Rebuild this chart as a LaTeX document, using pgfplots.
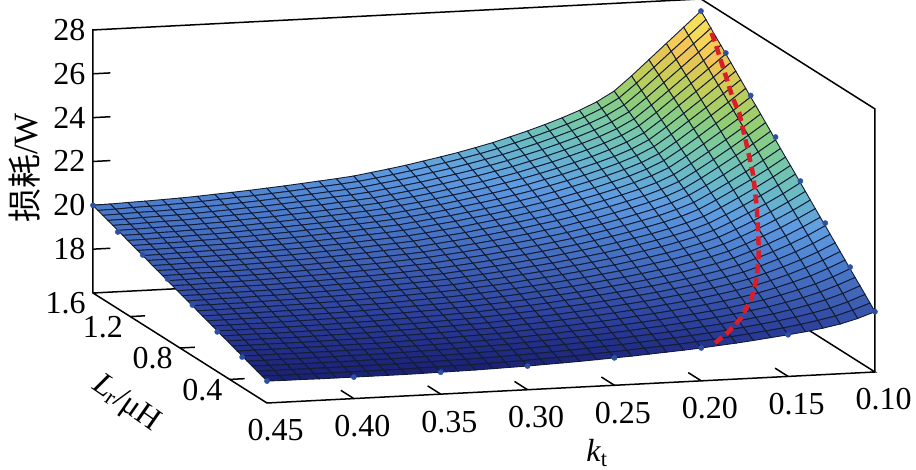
\documentclass[border=0pt]{standalone}
\usepackage{fontspec}
\setmainfont{Liberation Serif}
\newfontfamily\cjk{Noto Sans CJK SC}
\usepackage{pgfplots}
\pgfplotsset{compat=1.18}
\usetikzlibrary{calc}
\definecolor{meshc}{rgb}{0.07,0.11,0.2}
\definecolor{dotc}{RGB}{45,80,165}
\definecolor{redc}{RGB}{216,30,40}
\begin{document}
\begin{tikzpicture}
\begin{axis}[
  x={(-1737.14pt,-88.57pt)}, y={(-124.29pt,78.57pt)}, z={(0pt,21.92pt)},
  xmin=0.10,xmax=0.45,ymin=0.1,ymax=1.5,zmin=16,zmax=28,
  clip=false,
  axis line style={draw=none},
  tick style={draw=none},
  xtick={0.10,0.15,0.20,0.25,0.30,0.35,0.40,0.45},
  xticklabels={0.10,0.15,0.20,0.25,0.30,0.35,0.40,0.45},
  ytick={0.4,0.8,1.2,1.5},
  yticklabels={0.4,0.8,1.2,1.6},
  ztick={18,20,22,24,26,28},
  zticklabels={18,20,22,24,26,28},
  tick label style={font=\fontsize{32}{36}\selectfont},
  xticklabel style={yshift=-12pt},
  yticklabel style={xshift=-10pt,yshift=8pt},
  zticklabel style={xshift=-4pt,yshift=-5pt},
  colormap={loss}{rgb255=(26,32,115); rgb255=(44,62,155); rgb255=(62,95,180); rgb255=(76,125,205); rgb255=(95,155,225); rgb255=(105,185,200); rgb255=(120,200,165); rgb255=(145,205,115); rgb255=(200,205,85); rgb255=(245,195,85); rgb255=(245,230,90)},
  point meta min=17, point meta max=27,
]
\addplot3[black,line width=1.5pt,no markers,forget plot] coordinates {(0.45,1.5,16)(0.10,1.5,16)(0.10,0.1,16)(0.45,0.1,16)(0.45,1.5,16)(0.45,1.5,28)(0.10,1.5,28)(0.10,0.1,28)(0.10,0.1,16)};
\addplot3[black,line width=1.5pt,no markers,forget plot,unbounded coords=jump] coordinates {
(0.45,1.5,18)(0.44,1.5,18)(nan,nan,nan)(0.45,1.5,20)(0.44,1.5,20)(nan,nan,nan)(0.45,1.5,22)(0.44,1.5,22)(nan,nan,nan)(0.45,1.5,24)(0.44,1.5,24)(nan,nan,nan)(0.45,1.5,26)(0.44,1.5,26)(nan,nan,nan)
(0.45,0.4,16)(0.4414,0.4,16)(nan,nan,nan)(0.45,0.8,16)(0.4414,0.8,16)(nan,nan,nan)(0.45,1.2,16)(0.4414,1.2,16)(nan,nan,nan)
(0.15,0.1,16)(0.15,0.205,16)(nan,nan,nan)(0.20,0.1,16)(0.20,0.205,16)(nan,nan,nan)(0.25,0.1,16)(0.25,0.205,16)(nan,nan,nan)(0.30,0.1,16)(0.30,0.205,16)(nan,nan,nan)(0.35,0.1,16)(0.35,0.205,16)(nan,nan,nan)(0.40,0.1,16)(0.40,0.205,16)};
\addplot3[surf,shader=faceted,faceted color=meshc,line width=0.9pt,mesh/rows=36,mesh/cols=36,mesh/ordering=y varies,z buffer=none]
 table[row sep=\\,header=false,x index=0,y index=1,z index=2]{
0.10 1.50 27.45\\0.10 1.46 27.20\\0.10 1.42 26.95\\0.10 1.38 26.70\\0.10 1.34 26.46\\0.10 1.30 26.21\\0.10 1.26 25.96\\0.10 1.22 25.71\\0.10 1.18 25.46\\0.10 1.14 25.21\\0.10 1.10 24.96\\0.10 1.06 24.72\\0.10 1.02 24.47\\0.10 0.98 24.22\\0.10 0.94 23.97\\0.10 0.90 23.72\\0.10 0.86 23.47\\0.10 0.82 23.22\\0.10 0.78 22.98\\0.10 0.74 22.73\\0.10 0.70 22.48\\0.10 0.66 22.23\\0.10 0.62 21.98\\0.10 0.58 21.73\\0.10 0.54 21.48\\0.10 0.50 21.24\\0.10 0.46 20.99\\0.10 0.42 20.74\\0.10 0.38 20.49\\0.10 0.34 20.24\\0.10 0.30 19.99\\0.10 0.26 19.74\\0.10 0.22 19.50\\0.10 0.18 19.25\\0.10 0.14 19.00\\0.10 0.10 18.75\\
0.11 1.50 26.75\\0.11 1.46 26.51\\0.11 1.42 26.28\\0.11 1.38 26.04\\0.11 1.34 25.80\\0.11 1.30 25.57\\0.11 1.26 25.33\\0.11 1.22 25.10\\0.11 1.18 24.86\\0.11 1.14 24.62\\0.11 1.10 24.39\\0.11 1.06 24.15\\0.11 1.02 23.91\\0.11 0.98 23.68\\0.11 0.94 23.44\\0.11 0.90 23.21\\0.11 0.86 22.97\\0.11 0.82 22.73\\0.11 0.78 22.50\\0.11 0.74 22.26\\0.11 0.70 22.02\\0.11 0.66 21.79\\0.11 0.62 21.55\\0.11 0.58 21.32\\0.11 0.54 21.08\\0.11 0.50 20.84\\0.11 0.46 20.61\\0.11 0.42 20.37\\0.11 0.38 20.13\\0.11 0.34 19.90\\0.11 0.30 19.66\\0.11 0.26 19.43\\0.11 0.22 19.19\\0.11 0.18 18.95\\0.11 0.14 18.72\\0.11 0.10 18.48\\
0.12 1.50 26.05\\0.12 1.46 25.83\\0.12 1.42 25.61\\0.12 1.38 25.38\\0.12 1.34 25.16\\0.12 1.30 24.94\\0.12 1.26 24.72\\0.12 1.22 24.49\\0.12 1.18 24.27\\0.12 1.14 24.05\\0.12 1.10 23.83\\0.12 1.06 23.61\\0.12 1.02 23.38\\0.12 0.98 23.16\\0.12 0.94 22.94\\0.12 0.90 22.72\\0.12 0.86 22.49\\0.12 0.82 22.27\\0.12 0.78 22.05\\0.12 0.74 21.83\\0.12 0.70 21.60\\0.12 0.66 21.38\\0.12 0.62 21.16\\0.12 0.58 20.94\\0.12 0.54 20.71\\0.12 0.50 20.49\\0.12 0.46 20.27\\0.12 0.42 20.05\\0.12 0.38 19.83\\0.12 0.34 19.60\\0.12 0.30 19.38\\0.12 0.26 19.16\\0.12 0.22 18.94\\0.12 0.18 18.71\\0.12 0.14 18.49\\0.12 0.10 18.27\\
0.13 1.50 25.35\\0.13 1.46 25.14\\0.13 1.42 24.94\\0.13 1.38 24.73\\0.13 1.34 24.52\\0.13 1.30 24.32\\0.13 1.26 24.11\\0.13 1.22 23.90\\0.13 1.18 23.70\\0.13 1.14 23.49\\0.13 1.10 23.28\\0.13 1.06 23.08\\0.13 1.02 22.87\\0.13 0.98 22.66\\0.13 0.94 22.46\\0.13 0.90 22.25\\0.13 0.86 22.04\\0.13 0.82 21.84\\0.13 0.78 21.63\\0.13 0.74 21.42\\0.13 0.70 21.22\\0.13 0.66 21.01\\0.13 0.62 20.80\\0.13 0.58 20.60\\0.13 0.54 20.39\\0.13 0.50 20.18\\0.13 0.46 19.98\\0.13 0.42 19.77\\0.13 0.38 19.56\\0.13 0.34 19.36\\0.13 0.30 19.15\\0.13 0.26 18.94\\0.13 0.22 18.74\\0.13 0.18 18.53\\0.13 0.14 18.33\\0.13 0.10 18.12\\
0.14 1.50 24.65\\0.14 1.46 24.46\\0.14 1.42 24.27\\0.14 1.38 24.08\\0.14 1.34 23.89\\0.14 1.30 23.70\\0.14 1.26 23.51\\0.14 1.22 23.32\\0.14 1.18 23.13\\0.14 1.14 22.94\\0.14 1.10 22.75\\0.14 1.06 22.56\\0.14 1.02 22.37\\0.14 0.98 22.18\\0.14 0.94 21.99\\0.14 0.90 21.80\\0.14 0.86 21.61\\0.14 0.82 21.42\\0.14 0.78 21.23\\0.14 0.74 21.04\\0.14 0.70 20.85\\0.14 0.66 20.66\\0.14 0.62 20.47\\0.14 0.58 20.28\\0.14 0.54 20.09\\0.14 0.50 19.90\\0.14 0.46 19.71\\0.14 0.42 19.52\\0.14 0.38 19.33\\0.14 0.34 19.14\\0.14 0.30 18.95\\0.14 0.26 18.76\\0.14 0.22 18.57\\0.14 0.18 18.38\\0.14 0.14 18.19\\0.14 0.10 18.00\\
0.15 1.50 24.00\\0.15 1.46 23.83\\0.15 1.42 23.65\\0.15 1.38 23.48\\0.15 1.34 23.30\\0.15 1.30 23.13\\0.15 1.26 22.95\\0.15 1.22 22.78\\0.15 1.18 22.61\\0.15 1.14 22.43\\0.15 1.10 22.26\\0.15 1.06 22.08\\0.15 1.02 21.91\\0.15 0.98 21.73\\0.15 0.94 21.56\\0.15 0.90 21.39\\0.15 0.86 21.21\\0.15 0.82 21.04\\0.15 0.78 20.86\\0.15 0.74 20.69\\0.15 0.70 20.51\\0.15 0.66 20.34\\0.15 0.62 20.17\\0.15 0.58 19.99\\0.15 0.54 19.82\\0.15 0.50 19.64\\0.15 0.46 19.47\\0.15 0.42 19.29\\0.15 0.38 19.12\\0.15 0.34 18.95\\0.15 0.30 18.77\\0.15 0.26 18.60\\0.15 0.22 18.42\\0.15 0.18 18.25\\0.15 0.14 18.07\\0.15 0.10 17.90\\
0.16 1.50 23.55\\0.16 1.46 23.39\\0.16 1.42 23.22\\0.16 1.38 23.06\\0.16 1.34 22.89\\0.16 1.30 22.73\\0.16 1.26 22.57\\0.16 1.22 22.40\\0.16 1.18 22.24\\0.16 1.14 22.07\\0.16 1.10 21.91\\0.16 1.06 21.75\\0.16 1.02 21.58\\0.16 0.98 21.42\\0.16 0.94 21.25\\0.16 0.90 21.09\\0.16 0.86 20.93\\0.16 0.82 20.76\\0.16 0.78 20.60\\0.16 0.74 20.43\\0.16 0.70 20.27\\0.16 0.66 20.11\\0.16 0.62 19.94\\0.16 0.58 19.78\\0.16 0.54 19.61\\0.16 0.50 19.45\\0.16 0.46 19.29\\0.16 0.42 19.12\\0.16 0.38 18.96\\0.16 0.34 18.79\\0.16 0.30 18.63\\0.16 0.26 18.47\\0.16 0.22 18.30\\0.16 0.18 18.14\\0.16 0.14 17.97\\0.16 0.10 17.81\\
0.17 1.50 23.20\\0.17 1.46 23.04\\0.17 1.42 22.89\\0.17 1.38 22.73\\0.17 1.34 22.57\\0.17 1.30 22.42\\0.17 1.26 22.26\\0.17 1.22 22.10\\0.17 1.18 21.95\\0.17 1.14 21.79\\0.17 1.10 21.63\\0.17 1.06 21.48\\0.17 1.02 21.32\\0.17 0.98 21.16\\0.17 0.94 21.01\\0.17 0.90 20.85\\0.17 0.86 20.69\\0.17 0.82 20.54\\0.17 0.78 20.38\\0.17 0.74 20.22\\0.17 0.70 20.07\\0.17 0.66 19.91\\0.17 0.62 19.76\\0.17 0.58 19.60\\0.17 0.54 19.44\\0.17 0.50 19.29\\0.17 0.46 19.13\\0.17 0.42 18.97\\0.17 0.38 18.82\\0.17 0.34 18.66\\0.17 0.30 18.50\\0.17 0.26 18.35\\0.17 0.22 18.19\\0.17 0.18 18.03\\0.17 0.14 17.88\\0.17 0.10 17.72\\
0.18 1.50 22.90\\0.18 1.46 22.75\\0.18 1.42 22.60\\0.18 1.38 22.45\\0.18 1.34 22.30\\0.18 1.30 22.15\\0.18 1.26 21.99\\0.18 1.22 21.85\\0.18 1.18 21.70\\0.18 1.14 21.55\\0.18 1.10 21.40\\0.18 1.06 21.25\\0.18 1.02 21.10\\0.18 0.98 20.95\\0.18 0.94 20.80\\0.18 0.90 20.65\\0.18 0.86 20.50\\0.18 0.82 20.35\\0.18 0.78 20.19\\0.18 0.74 20.04\\0.18 0.70 19.89\\0.18 0.66 19.74\\0.18 0.62 19.59\\0.18 0.58 19.44\\0.18 0.54 19.29\\0.18 0.50 19.14\\0.18 0.46 18.99\\0.18 0.42 18.84\\0.18 0.38 18.69\\0.18 0.34 18.54\\0.18 0.30 18.39\\0.18 0.26 18.24\\0.18 0.22 18.09\\0.18 0.18 17.94\\0.18 0.14 17.79\\0.18 0.10 17.64\\
0.19 1.50 22.63\\0.19 1.46 22.49\\0.19 1.42 22.34\\0.19 1.38 22.20\\0.19 1.34 22.05\\0.19 1.30 21.91\\0.19 1.26 21.76\\0.19 1.22 21.62\\0.19 1.18 21.47\\0.19 1.14 21.33\\0.19 1.10 21.18\\0.19 1.06 21.04\\0.19 1.02 20.89\\0.19 0.98 20.75\\0.19 0.94 20.61\\0.19 0.90 20.46\\0.19 0.86 20.32\\0.19 0.82 20.17\\0.19 0.78 20.03\\0.19 0.74 19.88\\0.19 0.70 19.74\\0.19 0.66 19.59\\0.19 0.62 19.45\\0.19 0.58 19.30\\0.19 0.54 19.16\\0.19 0.50 19.01\\0.19 0.46 18.87\\0.19 0.42 18.73\\0.19 0.38 18.58\\0.19 0.34 18.44\\0.19 0.30 18.29\\0.19 0.26 18.15\\0.19 0.22 18.00\\0.19 0.18 17.86\\0.19 0.14 17.71\\0.19 0.10 17.57\\
0.20 1.50 22.38\\0.20 1.46 22.24\\0.20 1.42 22.10\\0.20 1.38 21.96\\0.20 1.34 21.82\\0.20 1.30 21.68\\0.20 1.26 21.54\\0.20 1.22 21.40\\0.20 1.18 21.26\\0.20 1.14 21.13\\0.20 1.10 20.99\\0.20 1.06 20.85\\0.20 1.02 20.71\\0.20 0.98 20.57\\0.20 0.94 20.43\\0.20 0.90 20.29\\0.20 0.86 20.15\\0.20 0.82 20.01\\0.20 0.78 19.87\\0.20 0.74 19.73\\0.20 0.70 19.59\\0.20 0.66 19.45\\0.20 0.62 19.31\\0.20 0.58 19.17\\0.20 0.54 19.03\\0.20 0.50 18.89\\0.20 0.46 18.75\\0.20 0.42 18.62\\0.20 0.38 18.48\\0.20 0.34 18.34\\0.20 0.30 18.20\\0.20 0.26 18.06\\0.20 0.22 17.92\\0.20 0.18 17.78\\0.20 0.14 17.64\\0.20 0.10 17.50\\
0.21 1.50 22.15\\0.21 1.46 22.02\\0.21 1.42 21.88\\0.21 1.38 21.75\\0.21 1.34 21.61\\0.21 1.30 21.48\\0.21 1.26 21.34\\0.21 1.22 21.21\\0.21 1.18 21.07\\0.21 1.14 20.94\\0.21 1.10 20.80\\0.21 1.06 20.67\\0.21 1.02 20.53\\0.21 0.98 20.40\\0.21 0.94 20.27\\0.21 0.90 20.13\\0.21 0.86 20.00\\0.21 0.82 19.86\\0.21 0.78 19.73\\0.21 0.74 19.59\\0.21 0.70 19.46\\0.21 0.66 19.32\\0.21 0.62 19.19\\0.21 0.58 19.05\\0.21 0.54 18.92\\0.21 0.50 18.79\\0.21 0.46 18.65\\0.21 0.42 18.52\\0.21 0.38 18.38\\0.21 0.34 18.25\\0.21 0.30 18.11\\0.21 0.26 17.98\\0.21 0.22 17.84\\0.21 0.18 17.71\\0.21 0.14 17.57\\0.21 0.10 17.44\\
0.22 1.50 21.93\\0.22 1.46 21.80\\0.22 1.42 21.67\\0.22 1.38 21.54\\0.22 1.34 21.41\\0.22 1.30 21.28\\0.22 1.26 21.15\\0.22 1.22 21.02\\0.22 1.18 20.89\\0.22 1.14 20.76\\0.22 1.10 20.63\\0.22 1.06 20.50\\0.22 1.02 20.37\\0.22 0.98 20.24\\0.22 0.94 20.11\\0.22 0.90 19.98\\0.22 0.86 19.85\\0.22 0.82 19.72\\0.22 0.78 19.60\\0.22 0.74 19.47\\0.22 0.70 19.34\\0.22 0.66 19.21\\0.22 0.62 19.08\\0.22 0.58 18.95\\0.22 0.54 18.82\\0.22 0.50 18.69\\0.22 0.46 18.56\\0.22 0.42 18.43\\0.22 0.38 18.30\\0.22 0.34 18.17\\0.22 0.30 18.04\\0.22 0.26 17.91\\0.22 0.22 17.78\\0.22 0.18 17.65\\0.22 0.14 17.52\\0.22 0.10 17.39\\
0.23 1.50 21.74\\0.23 1.46 21.61\\0.23 1.42 21.49\\0.23 1.38 21.36\\0.23 1.34 21.24\\0.23 1.30 21.11\\0.23 1.26 20.99\\0.23 1.22 20.86\\0.23 1.18 20.73\\0.23 1.14 20.61\\0.23 1.10 20.48\\0.23 1.06 20.36\\0.23 1.02 20.23\\0.23 0.98 20.11\\0.23 0.94 19.98\\0.23 0.90 19.85\\0.23 0.86 19.73\\0.23 0.82 19.60\\0.23 0.78 19.48\\0.23 0.74 19.35\\0.23 0.70 19.23\\0.23 0.66 19.10\\0.23 0.62 18.97\\0.23 0.58 18.85\\0.23 0.54 18.72\\0.23 0.50 18.60\\0.23 0.46 18.47\\0.23 0.42 18.35\\0.23 0.38 18.22\\0.23 0.34 18.09\\0.23 0.30 17.97\\0.23 0.26 17.84\\0.23 0.22 17.72\\0.23 0.18 17.59\\0.23 0.14 17.47\\0.23 0.10 17.34\\
0.24 1.50 21.56\\0.24 1.46 21.44\\0.24 1.42 21.32\\0.24 1.38 21.19\\0.24 1.34 21.07\\0.24 1.30 20.95\\0.24 1.26 20.83\\0.24 1.22 20.71\\0.24 1.18 20.58\\0.24 1.14 20.46\\0.24 1.10 20.34\\0.24 1.06 20.22\\0.24 1.02 20.10\\0.24 0.98 19.97\\0.24 0.94 19.85\\0.24 0.90 19.73\\0.24 0.86 19.61\\0.24 0.82 19.49\\0.24 0.78 19.36\\0.24 0.74 19.24\\0.24 0.70 19.12\\0.24 0.66 19.00\\0.24 0.62 18.88\\0.24 0.58 18.75\\0.24 0.54 18.63\\0.24 0.50 18.51\\0.24 0.46 18.39\\0.24 0.42 18.27\\0.24 0.38 18.14\\0.24 0.34 18.02\\0.24 0.30 17.90\\0.24 0.26 17.78\\0.24 0.22 17.66\\0.24 0.18 17.53\\0.24 0.14 17.41\\0.24 0.10 17.29\\
0.25 1.50 21.40\\0.25 1.46 21.28\\0.25 1.42 21.16\\0.25 1.38 21.04\\0.25 1.34 20.93\\0.25 1.30 20.81\\0.25 1.26 20.69\\0.25 1.22 20.57\\0.25 1.18 20.45\\0.25 1.14 20.33\\0.25 1.10 20.21\\0.25 1.06 20.10\\0.25 1.02 19.98\\0.25 0.98 19.86\\0.25 0.94 19.74\\0.25 0.90 19.62\\0.25 0.86 19.50\\0.25 0.82 19.38\\0.25 0.78 19.27\\0.25 0.74 19.15\\0.25 0.70 19.03\\0.25 0.66 18.91\\0.25 0.62 18.79\\0.25 0.58 18.67\\0.25 0.54 18.55\\0.25 0.50 18.44\\0.25 0.46 18.32\\0.25 0.42 18.20\\0.25 0.38 18.08\\0.25 0.34 17.96\\0.25 0.30 17.84\\0.25 0.26 17.72\\0.25 0.22 17.61\\0.25 0.18 17.49\\0.25 0.14 17.37\\0.25 0.10 17.25\\
0.26 1.50 21.25\\0.26 1.46 21.13\\0.26 1.42 21.02\\0.26 1.38 20.90\\0.26 1.34 20.79\\0.26 1.30 20.67\\0.26 1.26 20.56\\0.26 1.22 20.44\\0.26 1.18 20.33\\0.26 1.14 20.21\\0.26 1.10 20.10\\0.26 1.06 19.98\\0.26 1.02 19.87\\0.26 0.98 19.75\\0.26 0.94 19.63\\0.26 0.90 19.52\\0.26 0.86 19.40\\0.26 0.82 19.29\\0.26 0.78 19.17\\0.26 0.74 19.06\\0.26 0.70 18.94\\0.26 0.66 18.83\\0.26 0.62 18.71\\0.26 0.58 18.60\\0.26 0.54 18.48\\0.26 0.50 18.36\\0.26 0.46 18.25\\0.26 0.42 18.13\\0.26 0.38 18.02\\0.26 0.34 17.90\\0.26 0.30 17.79\\0.26 0.26 17.67\\0.26 0.22 17.56\\0.26 0.18 17.44\\0.26 0.14 17.33\\0.26 0.10 17.21\\
0.27 1.50 21.10\\0.27 1.46 20.99\\0.27 1.42 20.88\\0.27 1.38 20.76\\0.27 1.34 20.65\\0.27 1.30 20.54\\0.27 1.26 20.43\\0.27 1.22 20.31\\0.27 1.18 20.20\\0.27 1.14 20.09\\0.27 1.10 19.98\\0.27 1.06 19.86\\0.27 1.02 19.75\\0.27 0.98 19.64\\0.27 0.94 19.53\\0.27 0.90 19.42\\0.27 0.86 19.30\\0.27 0.82 19.19\\0.27 0.78 19.08\\0.27 0.74 18.97\\0.27 0.70 18.85\\0.27 0.66 18.74\\0.27 0.62 18.63\\0.27 0.58 18.52\\0.27 0.54 18.40\\0.27 0.50 18.29\\0.27 0.46 18.18\\0.27 0.42 18.07\\0.27 0.38 17.96\\0.27 0.34 17.84\\0.27 0.30 17.73\\0.27 0.26 17.62\\0.27 0.22 17.51\\0.27 0.18 17.39\\0.27 0.14 17.28\\0.27 0.10 17.17\\
0.28 1.50 20.97\\0.28 1.46 20.86\\0.28 1.42 20.75\\0.28 1.38 20.64\\0.28 1.34 20.53\\0.28 1.30 20.42\\0.28 1.26 20.31\\0.28 1.22 20.20\\0.28 1.18 20.09\\0.28 1.14 19.99\\0.28 1.10 19.88\\0.28 1.06 19.77\\0.28 1.02 19.66\\0.28 0.98 19.55\\0.28 0.94 19.44\\0.28 0.90 19.33\\0.28 0.86 19.22\\0.28 0.82 19.11\\0.28 0.78 19.00\\0.28 0.74 18.89\\0.28 0.70 18.78\\0.28 0.66 18.67\\0.28 0.62 18.56\\0.28 0.58 18.45\\0.28 0.54 18.34\\0.28 0.50 18.23\\0.28 0.46 18.13\\0.28 0.42 18.02\\0.28 0.38 17.91\\0.28 0.34 17.80\\0.28 0.30 17.69\\0.28 0.26 17.58\\0.28 0.22 17.47\\0.28 0.18 17.36\\0.28 0.14 17.25\\0.28 0.10 17.14\\
0.29 1.50 20.85\\0.29 1.46 20.74\\0.29 1.42 20.64\\0.29 1.38 20.53\\0.29 1.34 20.42\\0.29 1.30 20.32\\0.29 1.26 20.21\\0.29 1.22 20.10\\0.29 1.18 19.99\\0.29 1.14 19.89\\0.29 1.10 19.78\\0.29 1.06 19.67\\0.29 1.02 19.57\\0.29 0.98 19.46\\0.29 0.94 19.35\\0.29 0.90 19.25\\0.29 0.86 19.14\\0.29 0.82 19.03\\0.29 0.78 18.93\\0.29 0.74 18.82\\0.29 0.70 18.71\\0.29 0.66 18.61\\0.29 0.62 18.50\\0.29 0.58 18.39\\0.29 0.54 18.29\\0.29 0.50 18.18\\0.29 0.46 18.07\\0.29 0.42 17.96\\0.29 0.38 17.86\\0.29 0.34 17.75\\0.29 0.30 17.64\\0.29 0.26 17.54\\0.29 0.22 17.43\\0.29 0.18 17.32\\0.29 0.14 17.22\\0.29 0.10 17.11\\
0.30 1.50 20.73\\0.30 1.46 20.63\\0.30 1.42 20.52\\0.30 1.38 20.42\\0.30 1.34 20.31\\0.30 1.30 20.21\\0.30 1.26 20.10\\0.30 1.22 20.00\\0.30 1.18 19.90\\0.30 1.14 19.79\\0.30 1.10 19.69\\0.30 1.06 19.58\\0.30 1.02 19.48\\0.30 0.98 19.37\\0.30 0.94 19.27\\0.30 0.90 19.17\\0.30 0.86 19.06\\0.30 0.82 18.96\\0.30 0.78 18.85\\0.30 0.74 18.75\\0.30 0.70 18.64\\0.30 0.66 18.54\\0.30 0.62 18.44\\0.30 0.58 18.33\\0.30 0.54 18.23\\0.30 0.50 18.12\\0.30 0.46 18.02\\0.30 0.42 17.91\\0.30 0.38 17.81\\0.30 0.34 17.70\\0.30 0.30 17.60\\0.30 0.26 17.50\\0.30 0.22 17.39\\0.30 0.18 17.29\\0.30 0.14 17.18\\0.30 0.10 17.08\\
0.31 1.50 20.65\\0.31 1.46 20.55\\0.31 1.42 20.44\\0.31 1.38 20.34\\0.31 1.34 20.24\\0.31 1.30 20.14\\0.31 1.26 20.03\\0.31 1.22 19.93\\0.31 1.18 19.83\\0.31 1.14 19.73\\0.31 1.10 19.62\\0.31 1.06 19.52\\0.31 1.02 19.42\\0.31 0.98 19.32\\0.31 0.94 19.21\\0.31 0.90 19.11\\0.31 0.86 19.01\\0.31 0.82 18.91\\0.31 0.78 18.80\\0.31 0.74 18.70\\0.31 0.70 18.60\\0.31 0.66 18.50\\0.31 0.62 18.39\\0.31 0.58 18.29\\0.31 0.54 18.19\\0.31 0.50 18.09\\0.31 0.46 17.98\\0.31 0.42 17.88\\0.31 0.38 17.78\\0.31 0.34 17.68\\0.31 0.30 17.57\\0.31 0.26 17.47\\0.31 0.22 17.37\\0.31 0.18 17.27\\0.31 0.14 17.16\\0.31 0.10 17.06\\
0.32 1.50 20.58\\0.32 1.46 20.48\\0.32 1.42 20.38\\0.32 1.38 20.28\\0.32 1.34 20.18\\0.32 1.30 20.07\\0.32 1.26 19.97\\0.32 1.22 19.87\\0.32 1.18 19.77\\0.32 1.14 19.67\\0.32 1.10 19.57\\0.32 1.06 19.47\\0.32 1.02 19.37\\0.32 0.98 19.27\\0.32 0.94 19.16\\0.32 0.90 19.06\\0.32 0.86 18.96\\0.32 0.82 18.86\\0.32 0.78 18.76\\0.32 0.74 18.66\\0.32 0.70 18.56\\0.32 0.66 18.46\\0.32 0.62 18.36\\0.32 0.58 18.25\\0.32 0.54 18.15\\0.32 0.50 18.05\\0.32 0.46 17.95\\0.32 0.42 17.85\\0.32 0.38 17.75\\0.32 0.34 17.65\\0.32 0.30 17.55\\0.32 0.26 17.45\\0.32 0.22 17.34\\0.32 0.18 17.24\\0.32 0.14 17.14\\0.32 0.10 17.04\\
0.33 1.50 20.51\\0.33 1.46 20.41\\0.33 1.42 20.31\\0.33 1.38 20.21\\0.33 1.34 20.11\\0.33 1.30 20.01\\0.33 1.26 19.91\\0.33 1.22 19.81\\0.33 1.18 19.71\\0.33 1.14 19.61\\0.33 1.10 19.51\\0.33 1.06 19.41\\0.33 1.02 19.31\\0.33 0.98 19.21\\0.33 0.94 19.11\\0.33 0.90 19.01\\0.33 0.86 18.91\\0.33 0.82 18.81\\0.33 0.78 18.72\\0.33 0.74 18.62\\0.33 0.70 18.52\\0.33 0.66 18.42\\0.33 0.62 18.32\\0.33 0.58 18.22\\0.33 0.54 18.12\\0.33 0.50 18.02\\0.33 0.46 17.92\\0.33 0.42 17.82\\0.33 0.38 17.72\\0.33 0.34 17.62\\0.33 0.30 17.52\\0.33 0.26 17.42\\0.33 0.22 17.32\\0.33 0.18 17.22\\0.33 0.14 17.12\\0.33 0.10 17.02\\
0.34 1.50 20.44\\0.34 1.46 20.34\\0.34 1.42 20.24\\0.34 1.38 20.15\\0.34 1.34 20.05\\0.34 1.30 19.95\\0.34 1.26 19.85\\0.34 1.22 19.75\\0.34 1.18 19.66\\0.34 1.14 19.56\\0.34 1.10 19.46\\0.34 1.06 19.36\\0.34 1.02 19.26\\0.34 0.98 19.17\\0.34 0.94 19.07\\0.34 0.90 18.97\\0.34 0.86 18.87\\0.34 0.82 18.77\\0.34 0.78 18.68\\0.34 0.74 18.58\\0.34 0.70 18.48\\0.34 0.66 18.38\\0.34 0.62 18.28\\0.34 0.58 18.19\\0.34 0.54 18.09\\0.34 0.50 17.99\\0.34 0.46 17.89\\0.34 0.42 17.79\\0.34 0.38 17.70\\0.34 0.34 17.60\\0.34 0.30 17.50\\0.34 0.26 17.40\\0.34 0.22 17.30\\0.34 0.18 17.21\\0.34 0.14 17.11\\0.34 0.10 17.01\\
0.35 1.50 20.38\\0.35 1.46 20.28\\0.35 1.42 20.19\\0.35 1.38 20.09\\0.35 1.34 19.99\\0.35 1.30 19.90\\0.35 1.26 19.80\\0.35 1.22 19.70\\0.35 1.18 19.61\\0.35 1.14 19.51\\0.35 1.10 19.41\\0.35 1.06 19.32\\0.35 1.02 19.22\\0.35 0.98 19.12\\0.35 0.94 19.03\\0.35 0.90 18.93\\0.35 0.86 18.83\\0.35 0.82 18.74\\0.35 0.78 18.64\\0.35 0.74 18.54\\0.35 0.70 18.45\\0.35 0.66 18.35\\0.35 0.62 18.25\\0.35 0.58 18.16\\0.35 0.54 18.06\\0.35 0.50 17.97\\0.35 0.46 17.87\\0.35 0.42 17.77\\0.35 0.38 17.68\\0.35 0.34 17.58\\0.35 0.30 17.48\\0.35 0.26 17.39\\0.35 0.22 17.29\\0.35 0.18 17.19\\0.35 0.14 17.10\\0.35 0.10 17.00\\
0.36 1.50 20.32\\0.36 1.46 20.22\\0.36 1.42 20.13\\0.36 1.38 20.03\\0.36 1.34 19.94\\0.36 1.30 19.84\\0.36 1.26 19.75\\0.36 1.22 19.65\\0.36 1.18 19.56\\0.36 1.14 19.46\\0.36 1.10 19.37\\0.36 1.06 19.27\\0.36 1.02 19.18\\0.36 0.98 19.08\\0.36 0.94 18.99\\0.36 0.90 18.89\\0.36 0.86 18.80\\0.36 0.82 18.70\\0.36 0.78 18.61\\0.36 0.74 18.51\\0.36 0.70 18.42\\0.36 0.66 18.32\\0.36 0.62 18.23\\0.36 0.58 18.13\\0.36 0.54 18.04\\0.36 0.50 17.94\\0.36 0.46 17.85\\0.36 0.42 17.75\\0.36 0.38 17.66\\0.36 0.34 17.56\\0.36 0.30 17.47\\0.36 0.26 17.37\\0.36 0.22 17.28\\0.36 0.18 17.18\\0.36 0.14 17.09\\0.36 0.10 16.99\\
0.37 1.50 20.27\\0.37 1.46 20.18\\0.37 1.42 20.08\\0.37 1.38 19.99\\0.37 1.34 19.89\\0.37 1.30 19.80\\0.37 1.26 19.71\\0.37 1.22 19.61\\0.37 1.18 19.52\\0.37 1.14 19.42\\0.37 1.10 19.33\\0.37 1.06 19.24\\0.37 1.02 19.14\\0.37 0.98 19.05\\0.37 0.94 18.95\\0.37 0.90 18.86\\0.37 0.86 18.77\\0.37 0.82 18.67\\0.37 0.78 18.58\\0.37 0.74 18.48\\0.37 0.70 18.39\\0.37 0.66 18.30\\0.37 0.62 18.20\\0.37 0.58 18.11\\0.37 0.54 18.01\\0.37 0.50 17.92\\0.37 0.46 17.83\\0.37 0.42 17.73\\0.37 0.38 17.64\\0.37 0.34 17.54\\0.37 0.30 17.45\\0.37 0.26 17.36\\0.37 0.22 17.26\\0.37 0.18 17.17\\0.37 0.14 17.07\\0.37 0.10 16.98\\
0.38 1.50 20.22\\0.38 1.46 20.13\\0.38 1.42 20.03\\0.38 1.38 19.94\\0.38 1.34 19.85\\0.38 1.30 19.76\\0.38 1.26 19.66\\0.38 1.22 19.57\\0.38 1.18 19.48\\0.38 1.14 19.39\\0.38 1.10 19.29\\0.38 1.06 19.20\\0.38 1.02 19.11\\0.38 0.98 19.02\\0.38 0.94 18.92\\0.38 0.90 18.83\\0.38 0.86 18.74\\0.38 0.82 18.65\\0.38 0.78 18.55\\0.38 0.74 18.46\\0.38 0.70 18.37\\0.38 0.66 18.28\\0.38 0.62 18.18\\0.38 0.58 18.09\\0.38 0.54 18.00\\0.38 0.50 17.91\\0.38 0.46 17.81\\0.38 0.42 17.72\\0.38 0.38 17.63\\0.38 0.34 17.54\\0.38 0.30 17.44\\0.38 0.26 17.35\\0.38 0.22 17.26\\0.38 0.18 17.17\\0.38 0.14 17.07\\0.38 0.10 16.98\\
0.39 1.50 20.17\\0.39 1.46 20.08\\0.39 1.42 19.99\\0.39 1.38 19.90\\0.39 1.34 19.81\\0.39 1.30 19.71\\0.39 1.26 19.62\\0.39 1.22 19.53\\0.39 1.18 19.44\\0.39 1.14 19.35\\0.39 1.10 19.26\\0.39 1.06 19.17\\0.39 1.02 19.08\\0.39 0.98 18.99\\0.39 0.94 18.89\\0.39 0.90 18.80\\0.39 0.86 18.71\\0.39 0.82 18.62\\0.39 0.78 18.53\\0.39 0.74 18.44\\0.39 0.70 18.35\\0.39 0.66 18.26\\0.39 0.62 18.17\\0.39 0.58 18.07\\0.39 0.54 17.98\\0.39 0.50 17.89\\0.39 0.46 17.80\\0.39 0.42 17.71\\0.39 0.38 17.62\\0.39 0.34 17.53\\0.39 0.30 17.44\\0.39 0.26 17.35\\0.39 0.22 17.25\\0.39 0.18 17.16\\0.39 0.14 17.07\\0.39 0.10 16.98\\
0.40 1.50 20.13\\0.40 1.46 20.04\\0.40 1.42 19.95\\0.40 1.38 19.86\\0.40 1.34 19.77\\0.40 1.30 19.68\\0.40 1.26 19.59\\0.40 1.22 19.50\\0.40 1.18 19.41\\0.40 1.14 19.32\\0.40 1.10 19.23\\0.40 1.06 19.14\\0.40 1.02 19.05\\0.40 0.98 18.96\\0.40 0.94 18.87\\0.40 0.90 18.78\\0.40 0.86 18.69\\0.40 0.82 18.60\\0.40 0.78 18.51\\0.40 0.74 18.42\\0.40 0.70 18.33\\0.40 0.66 18.24\\0.40 0.62 18.15\\0.40 0.58 18.06\\0.40 0.54 17.97\\0.40 0.50 17.88\\0.40 0.46 17.79\\0.40 0.42 17.70\\0.40 0.38 17.61\\0.40 0.34 17.52\\0.40 0.30 17.43\\0.40 0.26 17.34\\0.40 0.22 17.25\\0.40 0.18 17.16\\0.40 0.14 17.07\\0.40 0.10 16.98\\
0.41 1.50 20.10\\0.41 1.46 20.01\\0.41 1.42 19.92\\0.41 1.38 19.83\\0.41 1.34 19.74\\0.41 1.30 19.65\\0.41 1.26 19.57\\0.41 1.22 19.48\\0.41 1.18 19.39\\0.41 1.14 19.30\\0.41 1.10 19.21\\0.41 1.06 19.12\\0.41 1.02 19.03\\0.41 0.98 18.94\\0.41 0.94 18.85\\0.41 0.90 18.76\\0.41 0.86 18.67\\0.41 0.82 18.59\\0.41 0.78 18.50\\0.41 0.74 18.41\\0.41 0.70 18.32\\0.41 0.66 18.23\\0.41 0.62 18.14\\0.41 0.58 18.05\\0.41 0.54 17.96\\0.41 0.50 17.87\\0.41 0.46 17.78\\0.41 0.42 17.69\\0.41 0.38 17.60\\0.41 0.34 17.52\\0.41 0.30 17.43\\0.41 0.26 17.34\\0.41 0.22 17.25\\0.41 0.18 17.16\\0.41 0.14 17.07\\0.41 0.10 16.98\\
0.42 1.50 20.07\\0.42 1.46 19.98\\0.42 1.42 19.89\\0.42 1.38 19.81\\0.42 1.34 19.72\\0.42 1.30 19.63\\0.42 1.26 19.54\\0.42 1.22 19.45\\0.42 1.18 19.36\\0.42 1.14 19.28\\0.42 1.10 19.19\\0.42 1.06 19.10\\0.42 1.02 19.01\\0.42 0.98 18.92\\0.42 0.94 18.83\\0.42 0.90 18.75\\0.42 0.86 18.66\\0.42 0.82 18.57\\0.42 0.78 18.48\\0.42 0.74 18.39\\0.42 0.70 18.30\\0.42 0.66 18.22\\0.42 0.62 18.13\\0.42 0.58 18.04\\0.42 0.54 17.95\\0.42 0.50 17.86\\0.42 0.46 17.77\\0.42 0.42 17.69\\0.42 0.38 17.60\\0.42 0.34 17.51\\0.42 0.30 17.42\\0.42 0.26 17.33\\0.42 0.22 17.24\\0.42 0.18 17.16\\0.42 0.14 17.07\\0.42 0.10 16.98\\
0.43 1.50 20.05\\0.43 1.46 19.96\\0.43 1.42 19.88\\0.43 1.38 19.79\\0.43 1.34 19.70\\0.43 1.30 19.61\\0.43 1.26 19.53\\0.43 1.22 19.44\\0.43 1.18 19.35\\0.43 1.14 19.26\\0.43 1.10 19.18\\0.43 1.06 19.09\\0.43 1.02 19.00\\0.43 0.98 18.91\\0.43 0.94 18.83\\0.43 0.90 18.74\\0.43 0.86 18.65\\0.43 0.82 18.56\\0.43 0.78 18.48\\0.43 0.74 18.39\\0.43 0.70 18.30\\0.43 0.66 18.21\\0.43 0.62 18.13\\0.43 0.58 18.04\\0.43 0.54 17.95\\0.43 0.50 17.86\\0.43 0.46 17.78\\0.43 0.42 17.69\\0.43 0.38 17.60\\0.43 0.34 17.51\\0.43 0.30 17.43\\0.43 0.26 17.34\\0.43 0.22 17.25\\0.43 0.18 17.16\\0.43 0.14 17.08\\0.43 0.10 16.99\\
0.44 1.50 20.02\\0.44 1.46 19.93\\0.44 1.42 19.85\\0.44 1.38 19.76\\0.44 1.34 19.67\\0.44 1.30 19.59\\0.44 1.26 19.50\\0.44 1.22 19.41\\0.44 1.18 19.33\\0.44 1.14 19.24\\0.44 1.10 19.15\\0.44 1.06 19.07\\0.44 1.02 18.98\\0.44 0.98 18.89\\0.44 0.94 18.81\\0.44 0.90 18.72\\0.44 0.86 18.63\\0.44 0.82 18.55\\0.44 0.78 18.46\\0.44 0.74 18.37\\0.44 0.70 18.29\\0.44 0.66 18.20\\0.44 0.62 18.11\\0.44 0.58 18.03\\0.44 0.54 17.94\\0.44 0.50 17.85\\0.44 0.46 17.77\\0.44 0.42 17.68\\0.44 0.38 17.59\\0.44 0.34 17.51\\0.44 0.30 17.42\\0.44 0.26 17.33\\0.44 0.22 17.25\\0.44 0.18 17.16\\0.44 0.14 17.07\\0.44 0.10 16.99\\
0.45 1.50 20.00\\0.45 1.46 19.91\\0.45 1.42 19.83\\0.45 1.38 19.74\\0.45 1.34 19.66\\0.45 1.30 19.57\\0.45 1.26 19.49\\0.45 1.22 19.40\\0.45 1.18 19.31\\0.45 1.14 19.23\\0.45 1.10 19.14\\0.45 1.06 19.06\\0.45 1.02 18.97\\0.45 0.98 18.89\\0.45 0.94 18.80\\0.45 0.90 18.71\\0.45 0.86 18.63\\0.45 0.82 18.54\\0.45 0.78 18.46\\0.45 0.74 18.37\\0.45 0.70 18.29\\0.45 0.66 18.20\\0.45 0.62 18.11\\0.45 0.58 18.03\\0.45 0.54 17.94\\0.45 0.50 17.86\\0.45 0.46 17.77\\0.45 0.42 17.69\\0.45 0.38 17.60\\0.45 0.34 17.51\\0.45 0.30 17.43\\0.45 0.26 17.34\\0.45 0.22 17.26\\0.45 0.18 17.17\\0.45 0.14 17.09\\0.45 0.10 17.00\\
};
\addplot3[redc,line width=4.5pt,no markers,dash pattern=on 9pt off 5pt] coordinates {(0.192,0.1,17.70)(0.179,0.184,17.80)(0.164,0.282,18.07)(0.151,0.38,18.58)(0.142,0.464,19.15)(0.135,0.548,19.78)(0.129,0.632,20.37)(0.122,0.744,21.31)(0.116,0.856,22.34)(0.112,0.968,23.38)(0.108,1.08,24.33)(0.107,1.15,24.81)(0.106,1.206,25.38)(0.105,1.318,26.71)(0.102,1.402,27.04)};
\addplot3[only marks,mark=*,mark size=2.6pt,color=dotc] coordinates {(0.10,1.5,27.45)(0.10,1.3,26.25)(0.10,1.1,25.03)(0.10,0.9,23.85)(0.10,0.7,22.56)(0.10,0.5,21.36)(0.10,0.3,20.07)(0.10,0.1,18.75)(0.15,0.1,17.9)(0.20,0.1,17.5)(0.25,0.1,17.25)(0.30,0.1,17.08)(0.35,0.1,17.0)(0.40,0.1,16.98)(0.45,0.1,17.0)(0.45,0.3,17.38)(0.45,0.5,17.81)(0.45,0.7,18.32)(0.45,0.9,18.79)(0.45,1.1,19.17)(0.45,1.3,19.5)(0.45,1.5,20.0)};
\coordinate (P) at (axis cs:0.45,0.1,16);
\end{axis}
\node[rotate=90,font=\fontsize{34}{38}\selectfont] at ($(P)+(-242pt,235pt)$) {{\cjk 损耗}/W};
\node[rotate=-35,font=\fontsize{32}{36}\selectfont] at ($(P)+(-141pt,-1pt)$) {\textit{L}\textsubscript{r}/μH};
\node[font=\fontsize{32}{36}\selectfont] at ($(P)+(330pt,-50pt)$) {\textit{k}\textsubscript{t}};
\pgfresetboundingbox
\path[use as bounding box] ($(P)+(-267pt,-67pt)$) rectangle ($(P)+(649pt,403pt)$);
\end{tikzpicture}
\end{document}
